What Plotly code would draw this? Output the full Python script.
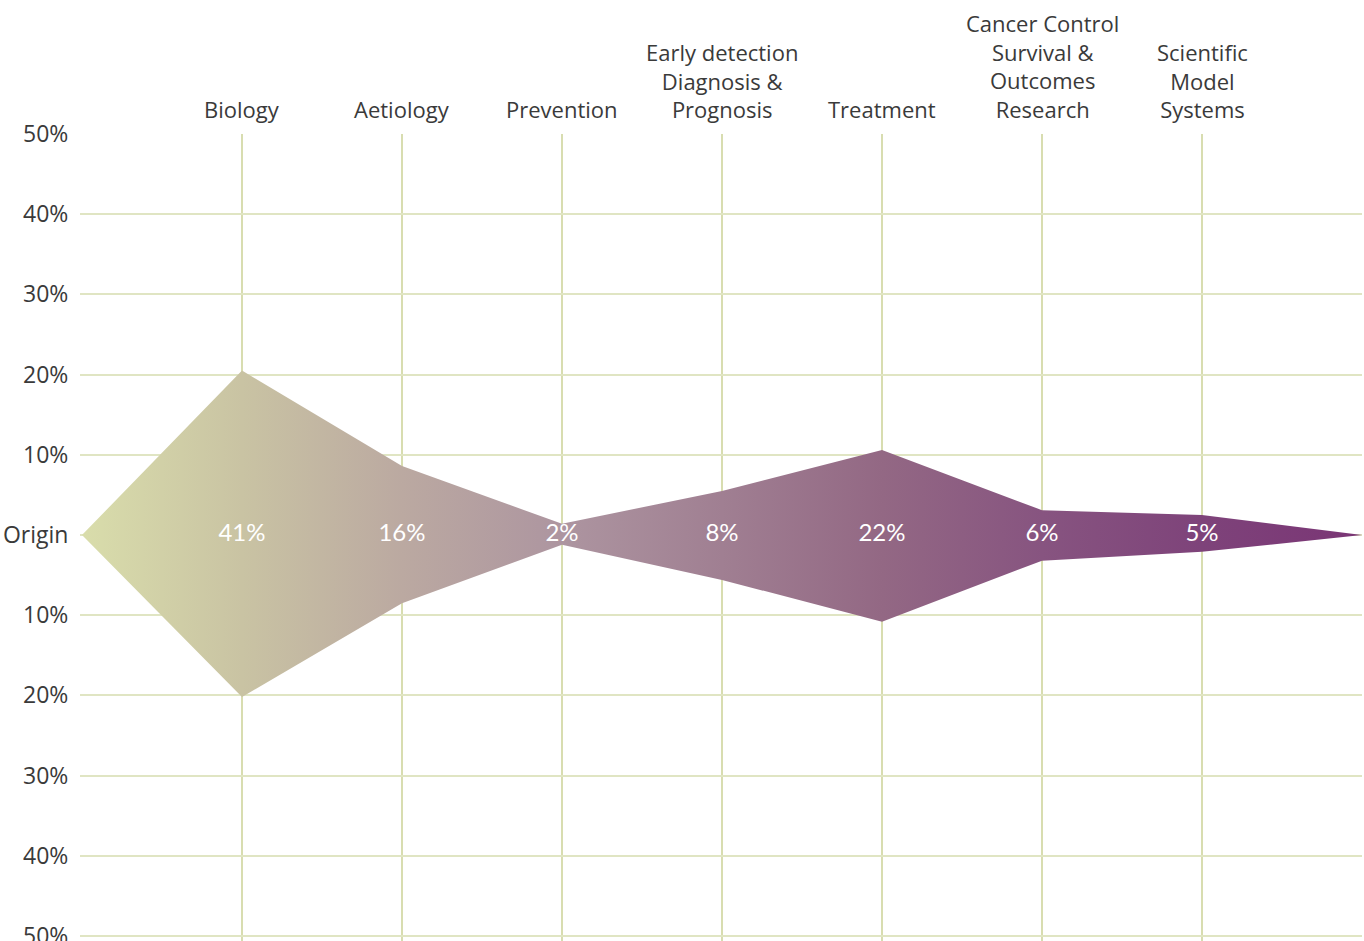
import plotly.graph_objects as go

categories = ["Biology", "Aetiology", "Prevention",
              "Early detection<br>Diagnosis &<br>Prognosis", "Treatment",
              "Cancer Control<br>Survival &<br>Outcomes<br>Research",
              "Scientific<br>Model<br>Systems"]
pct_labels = ["41%", "16%", "2%", "8%", "22%", "6%", "5%"]
upper = [20.5, 8.6, 1.4, 5.5, 10.6, 3.1, 2.5]
lower = [20.2, 8.5, 1.2, 5.6, 10.8, 3.2, 2.1]
y_ticks = [50, 40, 30, 20, 10, 0, -10, -20, -30, -40, -50]
y_ticktext = ["50%", "40%", "30%", "20%", "10%", "Origin", "10%", "20%", "30%", "40%", "50%"]

n = len(categories)
xs = list(range(1, n + 1))
poly_x = [0] + xs + [n + 1] + xs[::-1] + [0]
poly_y = [0] + upper + [0] + [-v for v in lower[::-1]] + [0]

fig = go.Figure()
fig.add_trace(go.Scatter(
    x=poly_x, y=poly_y, mode="lines", fill="toself",
    line=dict(width=0, color="rgba(0,0,0,0)"),
    fillgradient=dict(
        type="horizontal",
        colorscale=[[0.0, "#d9ddab"], [0.125, "#c9c3a3"], [0.25, "#bba9a1"],
                    [0.375, "#ad95a0"], [0.5, "#a07f92"], [0.625, "#936884"],
                    [0.75, "#875480"], [0.875, "#7e437a"], [1.0, "#7a3575"]]),
    hoverinfo="skip", showlegend=False))

fig.add_trace(go.Scatter(
    x=xs, y=[0] * n, mode="text", text=pct_labels,
    textfont=dict(family="Lato", size=24, color="white"),
    textposition="middle center", hoverinfo="skip", showlegend=False))

for xi, lab in zip(xs, categories):
    fig.add_annotation(x=xi, y=1, xref="x", yref="paper", text=lab,
                       showarrow=False, yanchor="bottom", xanchor="center",
                       yshift=8, align="center",
                       font=dict(family="Open Sans", size=22, color="#3a3a3a"))

fig.update_layout(
    width=1364, height=941,
    margin=dict(l=80, r=2, t=134, b=0, autoexpand=False),
    plot_bgcolor="white", paper_bgcolor="white",
    xaxis=dict(range=[-0.0125, n + 1], tickvals=xs, showticklabels=False,
               showgrid=True, gridcolor="#d8ddb0", gridwidth=2, automargin=False,
               zeroline=False, showline=False, ticks=""),
    yaxis=dict(range=[-50.62, 50], tickvals=y_ticks, ticktext=y_ticktext,
               showgrid=True, gridcolor="#e0e5c3", gridwidth=1.5,
               zeroline=False, showline=False, ticklabeloverflow="allow",
               automargin=False,
               ticks="outside", ticklen=6, tickcolor="rgba(0,0,0,0)",
               tickfont=dict(family="Open Sans", size=23, color="#3a3a3a")),
)

fig.write_html("out.html", config={"displayModeBar": False},
               post_script="document.body.style.margin='0';document.body.style.overflow='hidden';")
